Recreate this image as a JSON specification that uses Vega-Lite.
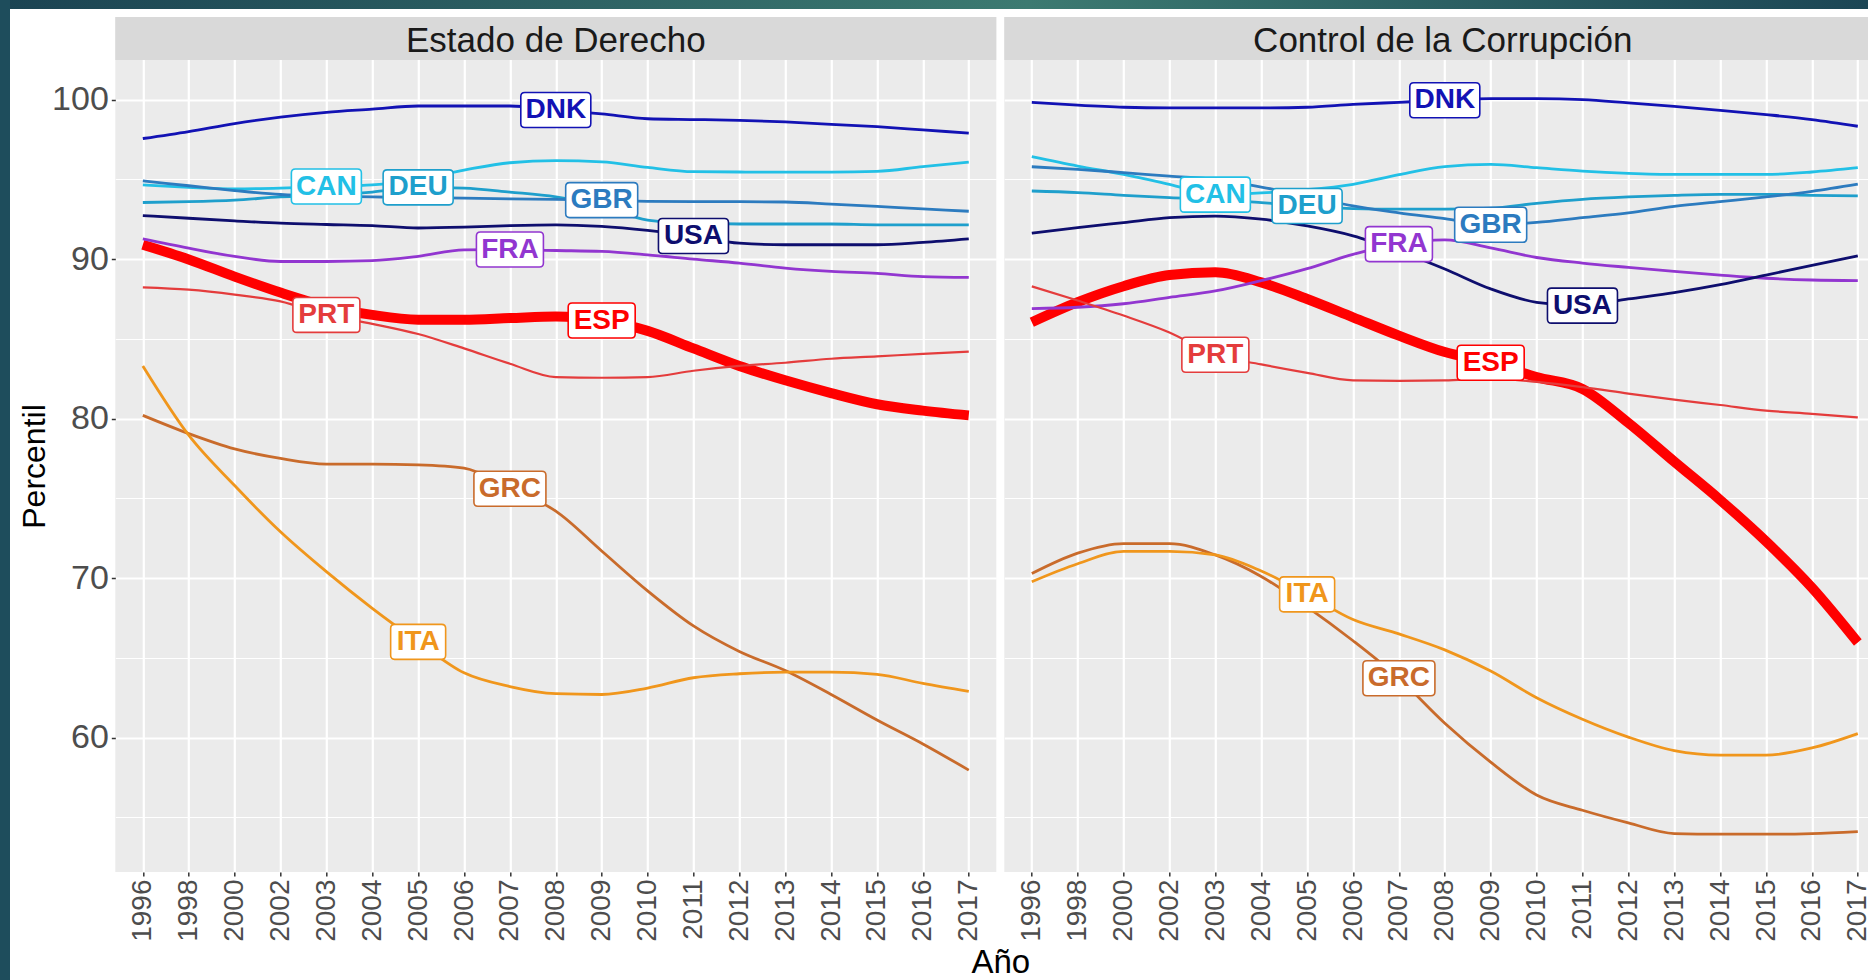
{
  "$schema": "https://vega.github.io/schema/vega-lite/v6.json",
  "padding": 0,
  "background": "#FFFFFF",
  "spacing": 0,
  "config": {
    "view": {"stroke": null, "fill": "#EBEBEB"},
    "font": "Liberation Sans",
    "axis": {"labelFont": "Liberation Sans", "titleFont": "Liberation Sans"},
    "text": {"font": "Liberation Sans"}
  },
  "datasets": {
    "wgi": [
      {"country":"CAN","year":"1996","ed":94.65,"cc":96.42},
      {"country":"CAN","year":"1998","ed":94.5,"cc":95.83},
      {"country":"CAN","year":"2000","ed":94.4,"cc":95.31},
      {"country":"CAN","year":"2002","ed":94.45,"cc":94.69},
      {"country":"CAN","year":"2003","ed":94.55,"cc":94.04},
      {"country":"CAN","year":"2004","ed":94.65,"cc":94.15},
      {"country":"CAN","year":"2005","ed":95.0,"cc":94.35},
      {"country":"CAN","year":"2006","ed":95.58,"cc":94.69},
      {"country":"CAN","year":"2007","ed":96.04,"cc":95.3},
      {"country":"CAN","year":"2008","ed":96.17,"cc":95.8},
      {"country":"CAN","year":"2009","ed":96.1,"cc":95.94},
      {"country":"CAN","year":"2010","ed":95.75,"cc":95.73},
      {"country":"CAN","year":"2011","ed":95.48,"cc":95.52},
      {"country":"CAN","year":"2012","ed":95.46,"cc":95.38},
      {"country":"CAN","year":"2013","ed":95.45,"cc":95.31},
      {"country":"CAN","year":"2014","ed":95.45,"cc":95.31},
      {"country":"CAN","year":"2015","ed":95.5,"cc":95.31},
      {"country":"CAN","year":"2016","ed":95.8,"cc":95.46},
      {"country":"CAN","year":"2017","ed":96.08,"cc":95.73},
      {"country":"DEU","year":"1996","ed":93.55,"cc":94.27},
      {"country":"DEU","year":"1998","ed":93.6,"cc":94.17},
      {"country":"DEU","year":"2000","ed":93.7,"cc":94.0},
      {"country":"DEU","year":"2002","ed":93.9,"cc":93.85},
      {"country":"DEU","year":"2003","ed":94.0,"cc":93.75},
      {"country":"DEU","year":"2004","ed":94.2,"cc":93.54},
      {"country":"DEU","year":"2005","ed":94.5,"cc":93.33},
      {"country":"DEU","year":"2006","ed":94.45,"cc":93.17},
      {"country":"DEU","year":"2007","ed":94.2,"cc":93.13},
      {"country":"DEU","year":"2008","ed":93.9,"cc":93.13},
      {"country":"DEU","year":"2009","ed":93.3,"cc":93.19},
      {"country":"DEU","year":"2010","ed":92.45,"cc":93.5},
      {"country":"DEU","year":"2011","ed":92.25,"cc":93.75},
      {"country":"DEU","year":"2012","ed":92.2,"cc":93.9},
      {"country":"DEU","year":"2013","ed":92.2,"cc":94.0},
      {"country":"DEU","year":"2014","ed":92.2,"cc":94.06},
      {"country":"DEU","year":"2015","ed":92.15,"cc":94.06},
      {"country":"DEU","year":"2016","ed":92.15,"cc":94.0},
      {"country":"DEU","year":"2017","ed":92.15,"cc":93.96},
      {"country":"DNK","year":"1996","ed":97.56,"cc":99.83},
      {"country":"DNK","year":"1998","ed":98.0,"cc":99.65},
      {"country":"DNK","year":"2000","ed":98.5,"cc":99.52},
      {"country":"DNK","year":"2002","ed":98.9,"cc":99.48},
      {"country":"DNK","year":"2003","ed":99.2,"cc":99.48},
      {"country":"DNK","year":"2004","ed":99.4,"cc":99.48},
      {"country":"DNK","year":"2005","ed":99.6,"cc":99.52},
      {"country":"DNK","year":"2006","ed":99.6,"cc":99.7},
      {"country":"DNK","year":"2007","ed":99.6,"cc":99.83},
      {"country":"DNK","year":"2008","ed":99.35,"cc":99.96},
      {"country":"DNK","year":"2009","ed":99.1,"cc":100.06},
      {"country":"DNK","year":"2010","ed":98.8,"cc":100.06},
      {"country":"DNK","year":"2011","ed":98.75,"cc":100.0},
      {"country":"DNK","year":"2012","ed":98.7,"cc":99.8},
      {"country":"DNK","year":"2013","ed":98.6,"cc":99.58},
      {"country":"DNK","year":"2014","ed":98.45,"cc":99.33},
      {"country":"DNK","year":"2015","ed":98.3,"cc":99.06},
      {"country":"DNK","year":"2016","ed":98.1,"cc":98.75},
      {"country":"DNK","year":"2017","ed":97.9,"cc":98.33},
      {"country":"ESP","year":"1996","ed":90.9,"cc":86.04},
      {"country":"ESP","year":"1998","ed":89.98,"cc":87.3},
      {"country":"ESP","year":"2000","ed":88.9,"cc":88.3},
      {"country":"ESP","year":"2002","ed":87.9,"cc":89.0},
      {"country":"ESP","year":"2003","ed":87.04,"cc":89.17},
      {"country":"ESP","year":"2004","ed":86.5,"cc":88.54},
      {"country":"ESP","year":"2005","ed":86.2,"cc":87.5},
      {"country":"ESP","year":"2006","ed":86.2,"cc":86.35},
      {"country":"ESP","year":"2007","ed":86.3,"cc":85.2},
      {"country":"ESP","year":"2008","ed":86.4,"cc":84.17},
      {"country":"ESP","year":"2009","ed":86.15,"cc":83.5},
      {"country":"ESP","year":"2010","ed":85.5,"cc":82.6},
      {"country":"ESP","year":"2011","ed":84.4,"cc":81.86},
      {"country":"ESP","year":"2012","ed":83.3,"cc":79.73},
      {"country":"ESP","year":"2013","ed":82.4,"cc":77.3},
      {"country":"ESP","year":"2014","ed":81.6,"cc":74.9},
      {"country":"ESP","year":"2015","ed":80.9,"cc":72.3},
      {"country":"ESP","year":"2016","ed":80.5,"cc":69.4},
      {"country":"ESP","year":"2017","ed":80.2,"cc":65.96},
      {"country":"FRA","year":"1996","ed":91.27,"cc":86.9},
      {"country":"FRA","year":"1998","ed":90.69,"cc":86.98},
      {"country":"FRA","year":"2000","ed":90.17,"cc":87.2},
      {"country":"FRA","year":"2002","ed":89.85,"cc":87.6},
      {"country":"FRA","year":"2003","ed":89.85,"cc":88.0},
      {"country":"FRA","year":"2004","ed":89.9,"cc":88.65},
      {"country":"FRA","year":"2005","ed":90.17,"cc":89.4},
      {"country":"FRA","year":"2006","ed":90.58,"cc":90.3},
      {"country":"FRA","year":"2007","ed":90.6,"cc":90.94},
      {"country":"FRA","year":"2008","ed":90.54,"cc":91.2},
      {"country":"FRA","year":"2009","ed":90.48,"cc":90.7},
      {"country":"FRA","year":"2010","ed":90.27,"cc":90.1},
      {"country":"FRA","year":"2011","ed":90.0,"cc":89.75},
      {"country":"FRA","year":"2012","ed":89.75,"cc":89.48},
      {"country":"FRA","year":"2013","ed":89.44,"cc":89.23},
      {"country":"FRA","year":"2014","ed":89.23,"cc":89.0},
      {"country":"FRA","year":"2015","ed":89.1,"cc":88.8},
      {"country":"FRA","year":"2016","ed":88.9,"cc":88.69},
      {"country":"FRA","year":"2017","ed":88.85,"cc":88.65},
      {"country":"GBR","year":"1996","ed":94.9,"cc":95.79},
      {"country":"GBR","year":"1998","ed":94.6,"cc":95.63},
      {"country":"GBR","year":"2000","ed":94.3,"cc":95.42},
      {"country":"GBR","year":"2002","ed":94.05,"cc":95.2},
      {"country":"GBR","year":"2003","ed":93.95,"cc":95.0},
      {"country":"GBR","year":"2004","ed":93.9,"cc":94.52},
      {"country":"GBR","year":"2005","ed":93.85,"cc":93.96},
      {"country":"GBR","year":"2006","ed":93.82,"cc":93.33},
      {"country":"GBR","year":"2007","ed":93.78,"cc":92.9},
      {"country":"GBR","year":"2008","ed":93.74,"cc":92.54},
      {"country":"GBR","year":"2009","ed":93.7,"cc":92.15},
      {"country":"GBR","year":"2010","ed":93.62,"cc":92.3},
      {"country":"GBR","year":"2011","ed":93.6,"cc":92.6},
      {"country":"GBR","year":"2012","ed":93.6,"cc":92.9},
      {"country":"GBR","year":"2013","ed":93.58,"cc":93.3},
      {"country":"GBR","year":"2014","ed":93.45,"cc":93.6},
      {"country":"GBR","year":"2015","ed":93.3,"cc":93.9},
      {"country":"GBR","year":"2016","ed":93.15,"cc":94.25},
      {"country":"GBR","year":"2017","ed":93.0,"cc":94.7},
      {"country":"GRC","year":"1996","ed":80.2,"cc":70.28},
      {"country":"GRC","year":"1998","ed":79.06,"cc":71.56},
      {"country":"GRC","year":"2000","ed":78.1,"cc":72.16},
      {"country":"GRC","year":"2002","ed":77.5,"cc":72.16},
      {"country":"GRC","year":"2003","ed":77.15,"cc":71.45},
      {"country":"GRC","year":"2004","ed":77.15,"cc":70.1},
      {"country":"GRC","year":"2005","ed":77.1,"cc":68.2},
      {"country":"GRC","year":"2006","ed":76.9,"cc":66.07},
      {"country":"GRC","year":"2007","ed":75.6,"cc":63.72},
      {"country":"GRC","year":"2008","ed":74.2,"cc":60.9},
      {"country":"GRC","year":"2009","ed":71.7,"cc":58.46},
      {"country":"GRC","year":"2010","ed":69.2,"cc":56.4},
      {"country":"GRC","year":"2011","ed":67.0,"cc":55.44},
      {"country":"GRC","year":"2012","ed":65.4,"cc":54.65},
      {"country":"GRC","year":"2013","ed":64.2,"cc":53.98},
      {"country":"GRC","year":"2014","ed":62.7,"cc":53.94},
      {"country":"GRC","year":"2015","ed":61.1,"cc":53.94},
      {"country":"GRC","year":"2016","ed":59.6,"cc":53.98},
      {"country":"GRC","year":"2017","ed":57.96,"cc":54.1},
      {"country":"ITA","year":"1996","ed":83.3,"cc":69.77},
      {"country":"ITA","year":"1998","ed":78.96,"cc":70.9},
      {"country":"ITA","year":"2000","ed":75.8,"cc":71.67},
      {"country":"ITA","year":"2002","ed":72.9,"cc":71.67},
      {"country":"ITA","year":"2003","ed":70.4,"cc":71.45},
      {"country":"ITA","year":"2004","ed":68.1,"cc":70.44},
      {"country":"ITA","year":"2005","ed":66.0,"cc":68.98},
      {"country":"ITA","year":"2006","ed":64.06,"cc":67.4},
      {"country":"ITA","year":"2007","ed":63.2,"cc":66.5},
      {"country":"ITA","year":"2008","ed":62.75,"cc":65.5},
      {"country":"ITA","year":"2009","ed":62.7,"cc":64.17},
      {"country":"ITA","year":"2010","ed":63.1,"cc":62.5},
      {"country":"ITA","year":"2011","ed":63.75,"cc":61.15},
      {"country":"ITA","year":"2012","ed":64.0,"cc":60.03},
      {"country":"ITA","year":"2013","ed":64.1,"cc":59.18},
      {"country":"ITA","year":"2014","ed":64.1,"cc":58.9},
      {"country":"ITA","year":"2015","ed":63.96,"cc":58.9},
      {"country":"ITA","year":"2016","ed":63.4,"cc":59.35},
      {"country":"ITA","year":"2017","ed":62.9,"cc":60.25},
      {"country":"PRT","year":"1996","ed":88.23,"cc":88.29},
      {"country":"PRT","year":"1998","ed":88.08,"cc":87.4},
      {"country":"PRT","year":"2000","ed":87.77,"cc":86.46},
      {"country":"PRT","year":"2002","ed":87.35,"cc":85.4},
      {"country":"PRT","year":"2003","ed":86.5,"cc":84.0},
      {"country":"PRT","year":"2004","ed":85.94,"cc":83.4},
      {"country":"PRT","year":"2005","ed":85.3,"cc":82.87},
      {"country":"PRT","year":"2006","ed":84.4,"cc":82.4},
      {"country":"PRT","year":"2007","ed":83.44,"cc":82.37},
      {"country":"PRT","year":"2008","ed":82.6,"cc":82.4},
      {"country":"PRT","year":"2009","ed":82.56,"cc":82.5},
      {"country":"PRT","year":"2010","ed":82.6,"cc":82.3},
      {"country":"PRT","year":"2011","ed":83.0,"cc":81.97},
      {"country":"PRT","year":"2012","ed":83.3,"cc":81.57},
      {"country":"PRT","year":"2013","ed":83.5,"cc":81.19},
      {"country":"PRT","year":"2014","ed":83.75,"cc":80.85},
      {"country":"PRT","year":"2015","ed":83.9,"cc":80.5},
      {"country":"PRT","year":"2016","ed":84.06,"cc":80.3},
      {"country":"PRT","year":"2017","ed":84.2,"cc":80.07},
      {"country":"USA","year":"1996","ed":92.73,"cc":91.63},
      {"country":"USA","year":"1998","ed":92.56,"cc":91.98},
      {"country":"USA","year":"2000","ed":92.4,"cc":92.29},
      {"country":"USA","year":"2002","ed":92.25,"cc":92.6},
      {"country":"USA","year":"2003","ed":92.17,"cc":92.7},
      {"country":"USA","year":"2004","ed":92.1,"cc":92.5},
      {"country":"USA","year":"2005","ed":91.95,"cc":92.08},
      {"country":"USA","year":"2006","ed":92.0,"cc":91.46},
      {"country":"USA","year":"2007","ed":92.1,"cc":90.5},
      {"country":"USA","year":"2008","ed":92.15,"cc":89.38},
      {"country":"USA","year":"2009","ed":92.05,"cc":88.13},
      {"country":"USA","year":"2010","ed":91.8,"cc":87.29},
      {"country":"USA","year":"2011","ed":91.45,"cc":87.08},
      {"country":"USA","year":"2012","ed":91.0,"cc":87.5},
      {"country":"USA","year":"2013","ed":90.9,"cc":87.9},
      {"country":"USA","year":"2014","ed":90.9,"cc":88.4},
      {"country":"USA","year":"2015","ed":90.9,"cc":89.0},
      {"country":"USA","year":"2016","ed":91.05,"cc":89.6},
      {"country":"USA","year":"2017","ed":91.27,"cc":90.2}
    ]
  },
  "vconcat": [
    {
      "width": 1868,
      "height": 17,
      "data": {"values": [{}]},
      "layer": [
        {"mark": {"type": "rect", "color": {"gradient": "linear", "x1": 0, "y1": 0, "x2": 1, "y2": 0, "stops": [{"offset": 0, "color": "#1B4352"}, {"offset": 0.55, "color": "#3C7A71"}, {"offset": 1, "color": "#1C4655"}]}}, "encoding": {}},
        {"mark": {"type": "rect", "color": {"gradient": "linear", "x1": 0, "y1": 0, "x2": 0, "y2": 1, "stops": [{"offset": 0, "color": "rgba(255,255,255,0)"}, {"offset": 0.529, "color": "rgba(255,255,255,0)"}, {"offset": 0.53, "color": "#FFFFFF"}, {"offset": 1, "color": "#FFFFFF"}]}}, "encoding": {}},
        {"mark": {"type": "rect", "color": {"gradient": "linear", "x1": 0, "y1": 0, "x2": 1, "y2": 0, "stops": [{"offset": 0, "color": "#1E4D5C"}, {"offset": 0.0053, "color": "#1E4D5C"}, {"offset": 0.0054, "color": "rgba(30,77,92,0)"}, {"offset": 1, "color": "rgba(30,77,92,0)"}]}}, "encoding": {}}
      ]
    },
    {
      "spacing": 8.3,
      "hconcat": [
        {
          "width": 10,
          "height": 963,
          "data": {"values": [{}]},
          "mark": {"type": "rect", "color": "#1E4D5C"},
          "encoding": {}
        },
        {
          "spacing": 8,
          "bounds": "flush",
          "hconcat": [
            {
              "width": 881,
              "height": 855,
              "resolve": {"axis": {"y": "independent"}},
              "layer": [
                {
                  "data": {"values": [{"panel": "Estado de Derecho"}]},
                  "mark": {"type": "rect", "color": "#D9D9D9"},
                  "encoding": {
                    "y": {"datum": 102.48, "type": "quantitative", "scale": {"domain": [51.57, 105.18], "nice": false, "zero": false}, "axis": null},
                    "y2": {"datum": 105.18}
                  }
                },
                {
                  "data": {"values": [{"panel": "Estado de Derecho"}]},
                  "mark": {"type": "text", "fontSize": 35, "color": "#1A1A1A", "baseline": "middle", "align": "center", "dy": 2},
                  "encoding": {
                    "y": {"datum": 103.83, "type": "quantitative", "scale": {"domain": [51.57, 105.18], "nice": false, "zero": false}, "axis": null},
                    "text": {"field": "panel"}
                  }
                },
                {
                  "data": {"name": "wgi"},
                  "resolve": {"axis": {"y": "independent"}},
                  "encoding": {
                    "x": {
                      "field": "year", "type": "ordinal",
                      "scale": {"type": "point", "padding": 0.6, "round": false},
                      "axis": {"labelAngle": -90, "labelFontSize": 28, "labelColor": "#4D4D4D", "labelPadding": 3, "tickSize": 4, "tickColor": "#333333", "tickWidth": 1.5, "domain": false, "grid": true, "gridColor": "#FFFFFF", "gridWidth": 2.2, "title": "Año", "titleFontSize": 33, "titleColor": "#000000", "titleFontWeight": "normal", "titleX": 885, "titleY": 100, "titleBaseline": "alphabetic"}
                    }
                  },
                  "layer": [
                    {
                      "mark": {"type": "line", "interpolate": "monotone"},
                      "encoding": {
                        "y": {"field": "ed", "type": "quantitative", "scale": {"domain": [51.57, 105.18], "nice": false, "zero": false},
                          "axis": {"values": [60, 70, 80, 90, 100], "title": "Percentil", "titleFontSize": 32, "titleColor": "#000000", "titleFontWeight": "normal", "titleY": 449, "titlePadding": 0, "labelFontSize": 34, "labelColor": "#4D4D4D", "labelPadding": 3, "tickSize": 4, "tickColor": "#333333", "tickWidth": 1.5, "domain": false, "grid": true, "gridColor": "#FFFFFF", "gridWidth": 2.2}},
                        "color": {"field": "country", "type": "nominal", "scale": {"domain": ["CAN","DEU","DNK","ESP","FRA","GBR","GRC","ITA","PRT","USA"], "range": ["#22C0E6","#1E9FCC","#1212B4","#FF0000","#9236D0","#2C7BBF","#C96B2B","#F0961C","#E43C3C","#0E0E6E"]}, "legend": null},
                        "strokeWidth": {"condition": [{"test": "datum.country === 'ESP'", "value": 10}, {"test": "datum.country === 'PRT'", "value": 2.2}], "value": 2.8}
                      }
                    },
                    {
                      "transform": [{"filter": "(datum.country==='DNK'&&datum.year==='2008')||(datum.country==='CAN'&&datum.year==='2003')||(datum.country==='DEU'&&datum.year==='2005')||(datum.country==='GBR'&&datum.year==='2009')||(datum.country==='USA'&&datum.year==='2011')||(datum.country==='FRA'&&datum.year==='2007')||(datum.country==='PRT'&&datum.year==='2003')||(datum.country==='ESP'&&datum.year==='2009')||(datum.country==='GRC'&&datum.year==='2007')||(datum.country==='ITA'&&datum.year==='2005')"}],
                      "mark": {"type": "point", "filled": true, "fill": "#FFFFFF", "opacity": 1, "fillOpacity": 1, "strokeOpacity": 1, "strokeWidth": 1.6},
                      "encoding": {
                        "y": {"field": "ed", "type": "quantitative", "scale": {"domain": [51.57, 105.18], "nice": false, "zero": false},
                          "axis": {"orient": "right", "values": [55, 65, 75, 85, 95], "labels": false, "ticks": false, "domain": false, "grid": true, "gridColor": "#FFFFFF", "gridWidth": 1.1, "title": null, "minExtent": 0, "maxExtent": 0}},
                        "stroke": {"field": "country", "type": "nominal", "scale": {"domain": ["CAN","DEU","DNK","ESP","FRA","GBR","GRC","ITA","PRT","USA"], "range": ["#22C0E6","#1E9FCC","#1212B4","#FF0000","#9236D0","#2C7BBF","#C96B2B","#F0961C","#E43C3C","#0E0E6E"]}, "legend": null},
                        "size": {"condition": [{"test": "datum.country === 'ITA'", "value": 3025}, {"test": "indexof(['GBR','GRC'], datum.country) >= 0", "value": 5184}, {"test": "indexof(['PRT','ESP','FRA'], datum.country) >= 0", "value": 4489}], "value": 4900},
                        "shape": {"condition": [
                          {"test": "datum.country === 'ITA'", "value": "M -0.855 -0.636 L 0.855 -0.636 Q 1 -0.636 1 -0.491 L 1 0.491 Q 1 0.636 0.855 0.636 L -0.855 0.636 Q -1 0.636 -1 0.491 L -1 -0.491 Q -1 -0.636 -0.855 -0.636 Z"},
                          {"test": "indexof(['GBR','GRC'], datum.country) >= 0", "value": "M -0.889 -0.486 L 0.889 -0.486 Q 1 -0.486 1 -0.375 L 1 0.375 Q 1 0.486 0.889 0.486 L -0.889 0.486 Q -1 0.486 -1 0.375 L -1 -0.375 Q -1 -0.486 -0.889 -0.486 Z"},
                          {"test": "indexof(['PRT','ESP','FRA'], datum.country) >= 0", "value": "M -0.881 -0.522 L 0.881 -0.522 Q 1 -0.522 1 -0.403 L 1 0.403 Q 1 0.522 0.881 0.522 L -0.881 0.522 Q -1 0.522 -1 0.403 L -1 -0.403 Q -1 -0.522 -0.881 -0.522 Z"}],
                          "value": "M -0.886 -0.5 L 0.886 -0.5 Q 1 -0.5 1 -0.386 L 1 0.386 Q 1 0.5 0.886 0.5 L -0.886 0.5 Q -1 0.5 -1 0.386 L -1 -0.386 Q -1 -0.5 -0.886 -0.5 Z"}
                      }
                    },
                    {
                      "transform": [{"filter": "(datum.country==='DNK'&&datum.year==='2008')||(datum.country==='CAN'&&datum.year==='2003')||(datum.country==='DEU'&&datum.year==='2005')||(datum.country==='GBR'&&datum.year==='2009')||(datum.country==='USA'&&datum.year==='2011')||(datum.country==='FRA'&&datum.year==='2007')||(datum.country==='PRT'&&datum.year==='2003')||(datum.country==='ESP'&&datum.year==='2009')||(datum.country==='GRC'&&datum.year==='2007')||(datum.country==='ITA'&&datum.year==='2005')"}],
                      "mark": {"type": "text", "fontSize": 28, "fontWeight": "bold", "baseline": "middle", "align": "center"},
                      "encoding": {
                        "y": {"field": "ed", "type": "quantitative", "scale": {"domain": [51.57, 105.18], "nice": false, "zero": false}, "axis": null},
                        "text": {"field": "country"},
                        "color": {"field": "country", "type": "nominal", "scale": {"domain": ["CAN","DEU","DNK","ESP","FRA","GBR","GRC","ITA","PRT","USA"], "range": ["#22C0E6","#1E9FCC","#1212B4","#FF0000","#9236D0","#2C7BBF","#C96B2B","#F0961C","#E43C3C","#0E0E6E"]}, "legend": null}
                      }
                    }
                  ]
                }
              ]
            },
            {
              "width": 865,
              "height": 855,
              "resolve": {"axis": {"y": "independent"}},
              "layer": [
                {
                  "data": {"values": [{"panel": "Control de la Corrupción"}]},
                  "mark": {"type": "rect", "color": "#D9D9D9"},
                  "encoding": {
                    "y": {"datum": 102.48, "type": "quantitative", "scale": {"domain": [51.57, 105.18], "nice": false, "zero": false}, "axis": null},
                    "y2": {"datum": 105.18}
                  }
                },
                {
                  "data": {"values": [{"panel": "Control de la Corrupción"}]},
                  "mark": {"type": "text", "fontSize": 35, "color": "#1A1A1A", "baseline": "middle", "align": "center", "dx": 6, "dy": 2},
                  "encoding": {
                    "y": {"datum": 103.83, "type": "quantitative", "scale": {"domain": [51.57, 105.18], "nice": false, "zero": false}, "axis": null},
                    "text": {"field": "panel"}
                  }
                },
                {
                  "data": {"name": "wgi"},
                  "resolve": {"axis": {"y": "independent"}},
                  "encoding": {
                    "x": {
                      "field": "year", "type": "ordinal",
                      "scale": {"type": "point", "padding": 0.425, "align": 0.705, "round": false},
                      "axis": {"labelAngle": -90, "labelFontSize": 28, "labelColor": "#4D4D4D", "labelPadding": 3, "tickSize": 4, "tickColor": "#333333", "tickWidth": 1.5, "domain": false, "grid": true, "gridColor": "#FFFFFF", "gridWidth": 2.2, "title": null}
                    }
                  },
                  "layer": [
                    {
                      "mark": {"type": "line", "interpolate": "monotone"},
                      "encoding": {
                        "y": {"field": "cc", "type": "quantitative", "scale": {"domain": [51.57, 105.18], "nice": false, "zero": false},
                          "axis": {"values": [60, 70, 80, 90, 100], "labels": false, "ticks": false, "domain": false, "title": null, "grid": true, "gridColor": "#FFFFFF", "gridWidth": 2.2, "minExtent": 0, "maxExtent": 0}},
                        "color": {"field": "country", "type": "nominal", "scale": {"domain": ["CAN","DEU","DNK","ESP","FRA","GBR","GRC","ITA","PRT","USA"], "range": ["#22C0E6","#1E9FCC","#1212B4","#FF0000","#9236D0","#2C7BBF","#C96B2B","#F0961C","#E43C3C","#0E0E6E"]}, "legend": null},
                        "strokeWidth": {"condition": [{"test": "datum.country === 'ESP'", "value": 10}, {"test": "datum.country === 'PRT'", "value": 2.2}], "value": 2.8}
                      }
                    },
                    {
                      "transform": [{"filter": "(datum.country==='DNK'&&datum.year==='2008')||(datum.country==='CAN'&&datum.year==='2003')||(datum.country==='DEU'&&datum.year==='2005')||(datum.country==='GBR'&&datum.year==='2009')||(datum.country==='USA'&&datum.year==='2011')||(datum.country==='FRA'&&datum.year==='2007')||(datum.country==='PRT'&&datum.year==='2003')||(datum.country==='ESP'&&datum.year==='2009')||(datum.country==='GRC'&&datum.year==='2007')||(datum.country==='ITA'&&datum.year==='2005')"}],
                      "mark": {"type": "point", "filled": true, "fill": "#FFFFFF", "opacity": 1, "fillOpacity": 1, "strokeOpacity": 1, "strokeWidth": 1.6},
                      "encoding": {
                        "y": {"field": "cc", "type": "quantitative", "scale": {"domain": [51.57, 105.18], "nice": false, "zero": false},
                          "axis": {"orient": "right", "values": [55, 65, 75, 85, 95], "labels": false, "ticks": false, "domain": false, "grid": true, "gridColor": "#FFFFFF", "gridWidth": 1.1, "title": null, "minExtent": 0, "maxExtent": 0}},
                        "stroke": {"field": "country", "type": "nominal", "scale": {"domain": ["CAN","DEU","DNK","ESP","FRA","GBR","GRC","ITA","PRT","USA"], "range": ["#22C0E6","#1E9FCC","#1212B4","#FF0000","#9236D0","#2C7BBF","#C96B2B","#F0961C","#E43C3C","#0E0E6E"]}, "legend": null},
                        "size": {"condition": [{"test": "datum.country === 'ITA'", "value": 3025}, {"test": "indexof(['GBR','GRC'], datum.country) >= 0", "value": 5184}, {"test": "indexof(['PRT','ESP','FRA'], datum.country) >= 0", "value": 4489}], "value": 4900},
                        "shape": {"condition": [
                          {"test": "datum.country === 'ITA'", "value": "M -0.855 -0.636 L 0.855 -0.636 Q 1 -0.636 1 -0.491 L 1 0.491 Q 1 0.636 0.855 0.636 L -0.855 0.636 Q -1 0.636 -1 0.491 L -1 -0.491 Q -1 -0.636 -0.855 -0.636 Z"},
                          {"test": "indexof(['GBR','GRC'], datum.country) >= 0", "value": "M -0.889 -0.486 L 0.889 -0.486 Q 1 -0.486 1 -0.375 L 1 0.375 Q 1 0.486 0.889 0.486 L -0.889 0.486 Q -1 0.486 -1 0.375 L -1 -0.375 Q -1 -0.486 -0.889 -0.486 Z"},
                          {"test": "indexof(['PRT','ESP','FRA'], datum.country) >= 0", "value": "M -0.881 -0.522 L 0.881 -0.522 Q 1 -0.522 1 -0.403 L 1 0.403 Q 1 0.522 0.881 0.522 L -0.881 0.522 Q -1 0.522 -1 0.403 L -1 -0.403 Q -1 -0.522 -0.881 -0.522 Z"}],
                          "value": "M -0.886 -0.5 L 0.886 -0.5 Q 1 -0.5 1 -0.386 L 1 0.386 Q 1 0.5 0.886 0.5 L -0.886 0.5 Q -1 0.5 -1 0.386 L -1 -0.386 Q -1 -0.5 -0.886 -0.5 Z"}
                      }
                    },
                    {
                      "transform": [{"filter": "(datum.country==='DNK'&&datum.year==='2008')||(datum.country==='CAN'&&datum.year==='2003')||(datum.country==='DEU'&&datum.year==='2005')||(datum.country==='GBR'&&datum.year==='2009')||(datum.country==='USA'&&datum.year==='2011')||(datum.country==='FRA'&&datum.year==='2007')||(datum.country==='PRT'&&datum.year==='2003')||(datum.country==='ESP'&&datum.year==='2009')||(datum.country==='GRC'&&datum.year==='2007')||(datum.country==='ITA'&&datum.year==='2005')"}],
                      "mark": {"type": "text", "fontSize": 28, "fontWeight": "bold", "baseline": "middle", "align": "center"},
                      "encoding": {
                        "y": {"field": "cc", "type": "quantitative", "scale": {"domain": [51.57, 105.18], "nice": false, "zero": false}, "axis": null},
                        "text": {"field": "country"},
                        "color": {"field": "country", "type": "nominal", "scale": {"domain": ["CAN","DEU","DNK","ESP","FRA","GBR","GRC","ITA","PRT","USA"], "range": ["#22C0E6","#1E9FCC","#1212B4","#FF0000","#9236D0","#2C7BBF","#C96B2B","#F0961C","#E43C3C","#0E0E6E"]}, "legend": null}
                      }
                    }
                  ]
                }
              ]
            }
          ]
        }
      ]
    }
  ]
}
